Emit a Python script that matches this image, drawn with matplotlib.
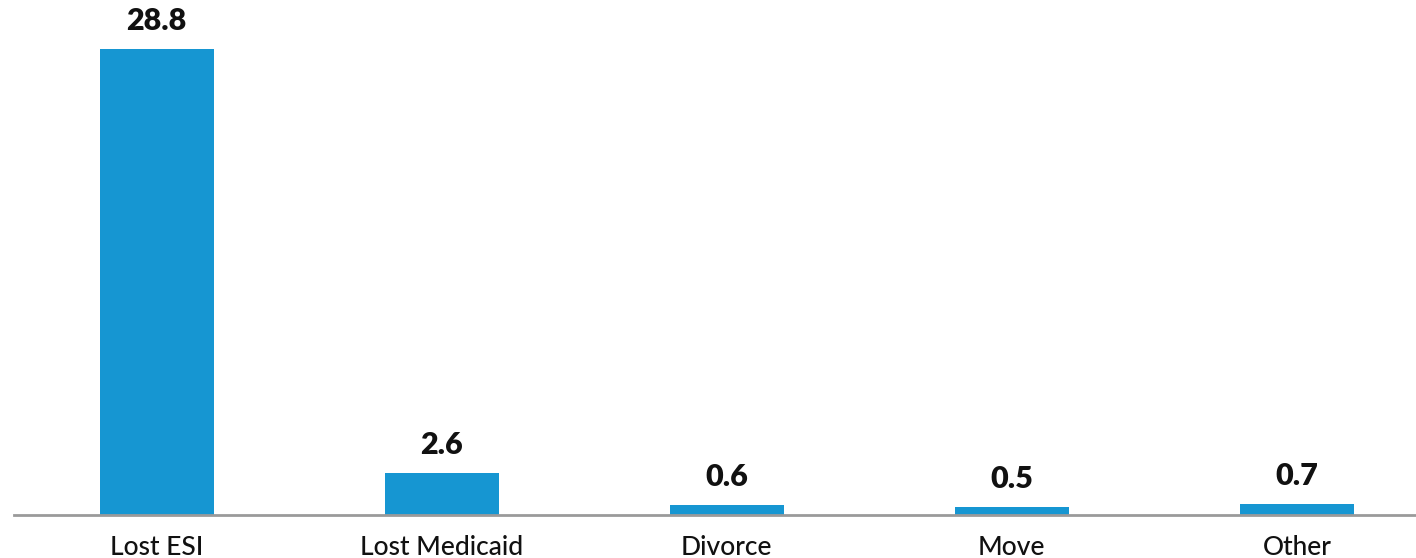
import matplotlib.pyplot as plt

plt.rcParams['font.family'] = ['Lato', 'DejaVu Sans']

categories = ["Lost ESI", "Lost Medicaid", "Divorce", "Move", "Other"]
values = [28.8, 2.6, 0.6, 0.5, 0.7]
labels = ["28.8", "2.6", "0.6", "0.5", "0.7"]

bar_color = "#1696d2"

fig = plt.figure(figsize=(14.16, 5.58), dpi=100)
ax = fig.add_axes([14 / 1416, 43 / 558, 1 - 14 / 1416, 515 / 558])

x = range(len(categories))
bars = ax.bar(x, values, width=0.4, color=bar_color, zorder=2)

# value labels above bars
for xi, v, lab in zip(x, values, labels):
    ax.annotate(lab, (xi, v), xytext=(0, 10), textcoords="offset points",
                ha="center", va="bottom", fontsize=22, fontweight="heavy",
                color="#111111")

ax.set_xlim(-0.5, 4.5 - 23.5 / 285)
ax.set_ylim(0, 31.8)

ax.set_xticks(list(x))
ax.set_xticklabels(categories, fontsize=19, color="#111111", fontweight="medium")
ax.tick_params(axis="x", length=0, pad=14.5)
ax.set_yticks([])

for s in ["top", "right", "left"]:
    ax.spines[s].set_visible(False)
ax.spines["bottom"].set_color("#9a9a9a")
ax.spines["bottom"].set_linewidth(2)

fig.savefig("out.png", dpi=100)
